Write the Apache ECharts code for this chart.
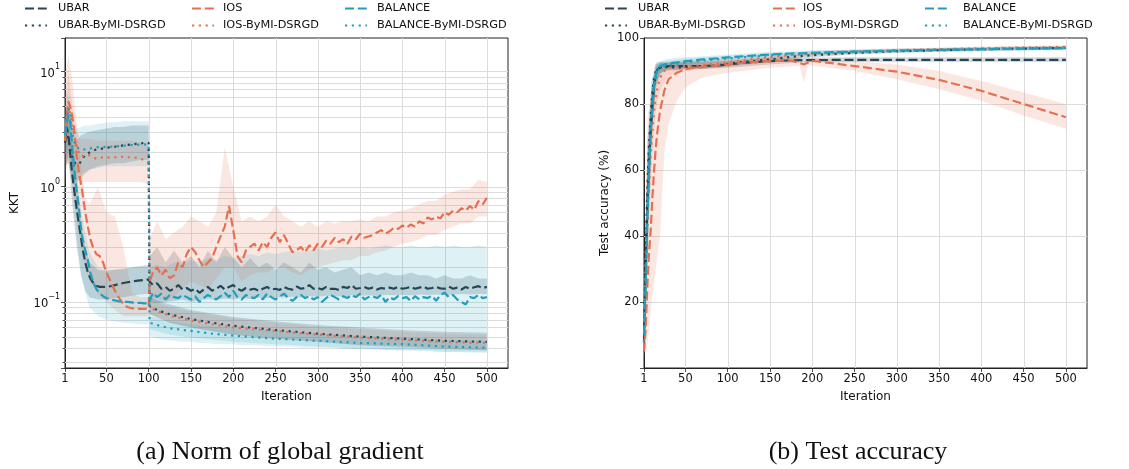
<!DOCTYPE html>
<html><head><meta charset="utf-8">
<script src="https://cdn.jsdelivr.net/npm/echarts@6/dist/echarts.min.js"></script>
<style>html,body{margin:0;padding:0;background:#fff}#c{width:1129px;height:469px}</style>
</head><body><div id="c"></div>
<script>
// ---------- tick labels / names ----------
const names = ['UBAR','UBAR-ByMI-DSRGD','IOS','IOS-ByMI-DSRGD','BALANCE','BALANCE-ByMI-DSRGD'];
const captions = ['(a) Norm of global gradient','(b) Test accuracy'];
const xTickValues = [1,50,100,150,200,250,300,350,400,450,500];
const xGridValues = [50,100,150,200,250,300,350,400,450,500];
const kktMajor = [0.1,1,10];
const kktMinor = [0.03,0.04,0.05,0.06,0.07,0.08,0.09,0.2,0.3,0.4,0.5,0.6,0.7,0.8,0.9,2,3,4,5,6,7,8,9];
const accGrid = [20,40,60,80];

// ---------- (a) KKT : iterations ----------
const kktEarlyIter = [1,3,5,7,9,11,13,15,17,19,21,23,25,28,31,34,38,42,46,50,55,60,65,70,75,80,85,90,95,100];
const kktLateIter = [101,105,110,115,120,125,130,135,140,145,150,155,160,165,170,175,180,185,190,195,200,205,210,215,220,225,230,235,240,245,250,255,260,265,270,275,280,285,290,295,300,305,310,315,320,325,330,335,340,345,350,355,360,365,370,375,380,385,390,395,400,405,410,415,420,425,430,435,440,445,450,455,460,465,470,475,480,485,490,495,500];
const kktSmoothIter = [101,110,125,150,175,200,250,300,350,400,450,500];

// ---------- (a) KKT : means ----------
const ubarKktEarly = [2.4,3.3,2.8,2.0,1.4,1.05,0.8,0.63,0.5,0.4,0.32,0.26,0.22,0.18,0.16,0.148,0.138,0.135,0.135,0.135,0.137,0.14,0.143,0.146,0.148,0.15,0.152,0.154,0.155,0.157];
const ubarKktLate = [0.15,0.14,0.145,0.13,0.135,0.125,0.13,0.14,0.128,0.132,
 0.125,0.13,0.12,0.128,0.135,0.125,0.13,0.138,0.128,0.135,
 0.14,0.13,0.125,0.132,0.128,0.13,0.125,0.13,0.135,0.128,
 0.13,0.127,0.135,0.13,0.128,0.136,0.13,0.132,0.14,0.13,
 0.132,0.128,0.135,0.13,0.13,0.127,0.135,0.132,0.14,0.13,
 0.132,0.135,0.13,0.133,0.128,0.132,0.13,0.133,0.13,0.135,
 0.13,0.132,0.135,0.13,0.133,0.136,0.13,0.132,0.135,0.131,
 0.13,0.136,0.13,0.133,0.128,0.135,0.13,0.134,0.137,0.132,
 0.135];
const iosKktEarly = [2.5,4.0,5.5,5.0,4.3,3.5,2.6,1.8,1.4,1.15,0.95,0.75,0.6,0.45,0.35,0.3,0.26,0.25,0.22,0.18,0.15,0.125,0.108,0.096,0.09,0.088,0.088,0.087,0.087,0.088];
const iosKktLate = [0.15,0.18,0.2,0.17,0.19,0.16,0.17,0.22,0.2,0.26,
 0.3,0.27,0.23,0.2,0.22,0.24,0.3,0.37,0.45,0.68,
 0.42,0.25,0.22,0.28,0.3,0.32,0.28,0.33,0.3,0.36,
 0.4,0.33,0.38,0.32,0.27,0.28,0.3,0.27,0.31,0.28,
 0.32,0.3,0.34,0.32,0.36,0.33,0.35,0.32,0.37,0.35,
 0.39,0.36,0.37,0.38,0.4,0.42,0.39,0.41,0.44,0.43,
 0.46,0.44,0.47,0.45,0.5,0.48,0.54,0.52,0.55,0.53,
 0.6,0.57,0.62,0.6,0.65,0.62,0.68,0.63,0.75,0.7,
 0.8];
const balKktEarly = [2.8,3.5,4.2,3.8,2.5,1.7,1.2,0.9,0.7,0.5,0.38,0.32,0.28,0.23,0.18,0.15,0.13,0.118,0.112,0.108,0.105,0.103,0.101,0.1,0.1,0.099,0.098,0.098,0.097,0.097];
const balKktLate = [0.1,0.12,0.11,0.118,0.105,0.115,0.11,0.108,0.115,0.11,
 0.105,0.112,0.1,0.108,0.115,0.11,0.105,0.112,0.12,0.11,
 0.125,0.11,0.105,0.115,0.11,0.108,0.115,0.105,0.118,0.11,
 0.105,0.112,0.118,0.108,0.102,0.11,0.115,0.108,0.112,0.105,
 0.11,0.1,0.108,0.115,0.11,0.105,0.112,0.108,0.115,0.11,
 0.118,0.105,0.11,0.112,0.108,0.115,0.1,0.11,0.105,0.112,
 0.108,0.11,0.102,0.112,0.105,0.11,0.108,0.113,0.102,0.115,
 0.12,0.11,0.115,0.105,0.1,0.095,0.11,0.108,0.115,0.108,
 0.11];
const ubarBymiKktEarly = [2.5,2.8,2.6,2.2,1.9,1.7,1.6,1.55,1.55,1.6,1.7,1.8,1.9,1.95,2.0,2.05,2.1,2.12,2.15,2.18,2.2,2.22,2.25,2.28,2.3,2.33,2.35,2.37,2.4,2.4];
const ubarBymiKktLate = [0.092,0.085,0.078,0.071,0.066,0.062,0.057,0.053,0.05,0.048,0.046,0.045];
const iosBymiKktEarly = [2.6,3.5,4.8,4.3,3.5,3.0,2.5,2.2,2.0,1.85,1.8,1.85,1.9,1.9,1.85,1.8,1.75,1.78,1.8,1.8,1.78,1.8,1.8,1.82,1.8,1.8,1.78,1.75,1.7,1.6];
const iosBymiKktLate = [0.09,0.083,0.076,0.069,0.064,0.06,0.056,0.052,0.049,0.047,0.045,0.044];
const balBymiKktEarly = [2.8,3.8,4.8,4.5,3.2,2.6,2.3,2.2,2.15,2.1,2.1,2.1,2.12,2.15,2.15,2.17,2.2,2.2,2.2,2.22,2.22,2.25,2.25,2.27,2.28,2.3,2.3,2.32,2.33,2.3];
const balBymiKktLate = [0.066,0.063,0.059,0.056,0.053,0.051,0.048,0.046,0.044,0.043,0.041,0.040];

// ---------- (a) KKT : bands ----------
const kktBandEarlyIter = [1,5,10,15,20,25,30,40,50,60,70,80,90,100];
const kktBandLateIter = [101,110,120,130,140,150,160,170,180,190,200,210,220,230,240,250,260,270,280,290,300,310,320,330,340,350,360,370,380,390,400,410,420,430,440,450,460,470,480,490,500];
const kktBandSmoothIter = [101,125,150,200,250,300,350,400,450,500];
const ubarKktLoEarly = [1.5,1.8,0.65,0.3,0.17,0.125,0.11,0.105,0.105,0.108,0.11,0.113,0.116,0.118];
const ubarKktHiEarly = [3.6,4.8,2.1,1.1,0.5,0.3,0.22,0.19,0.185,0.19,0.195,0.2,0.205,0.21];
const ubarKktLoLate = [0.1,0.098,0.1,0.102,0.105,0.1,0.103,0.106,0.104,0.107,
 0.105,0.108,0.106,0.109,0.108,0.11,0.109,0.111,0.11,0.112,
 0.111,0.113,0.112,0.112,0.114,0.113,0.114,0.113,0.115,0.114,
 0.115,0.114,0.116,0.115,0.116,0.115,0.116,0.117,0.116,0.117,0.117];
const ubarKktHiLate = [0.25,0.3,0.22,0.28,0.22,0.25,0.2,0.28,0.22,0.3,
 0.24,0.2,0.24,0.2,0.22,0.19,0.22,0.2,0.18,0.22,
 0.19,0.2,0.18,0.19,0.2,0.17,0.18,0.17,0.18,0.17,
 0.17,0.18,0.17,0.17,0.16,0.17,0.16,0.16,0.17,0.16,0.16];
const iosKktLoEarly = [1.0,2.5,1.2,0.5,0.3,0.2,0.15,0.12,0.1,0.085,0.075,0.075,0.075,0.075];
const iosKktHiEarly = [9,14,8,3.5,1.5,0.8,0.7,1.0,0.6,0.55,0.3,0.12,0.11,0.11];
const iosKktLoLate = [0.1,0.11,0.1,0.11,0.13,0.15,0.14,0.13,0.16,0.2,
 0.2,0.15,0.17,0.18,0.18,0.2,0.2,0.18,0.17,0.19,
 0.2,0.21,0.22,0.23,0.23,0.25,0.25,0.27,0.28,0.3,
 0.32,0.33,0.35,0.38,0.38,0.42,0.45,0.48,0.48,0.55,0.55];
const iosKktHiLate = [0.35,0.5,0.35,0.4,0.45,0.55,0.5,0.45,0.6,2.2,
 1.0,0.5,0.55,0.5,0.55,0.7,0.55,0.5,0.45,0.5,
 0.45,0.5,0.48,0.5,0.5,0.52,0.5,0.55,0.55,0.6,
 0.62,0.65,0.7,0.75,0.75,0.85,0.9,0.95,0.95,1.15,1.1];
const balKktLoEarly = [1.8,2.2,0.9,0.35,0.17,0.12,0.09,0.075,0.07,0.068,0.066,0.065,0.064,0.064];
const balKktHiEarly = [4,6,2.6,1.3,0.6,0.4,0.27,0.2,0.19,0.19,0.19,0.2,0.2,0.2];
const balKktLoLate = [0.05,0.048,0.047,0.046,0.045,0.045,0.044,0.044,0.043,0.043,
 0.043,0.042,0.042,0.042,0.041,0.041,0.041,0.041,0.04,0.04,
 0.04,0.04,0.04,0.039,0.039,0.039,0.039,0.039,0.038,0.038,
 0.038,0.038,0.038,0.038,0.037,0.037,0.037,0.037,0.037,0.037,0.037];
const balKktHiLate = [0.2,0.21,0.2,0.22,0.21,0.23,0.22,0.24,0.23,0.25,
 0.24,0.25,0.26,0.25,0.27,0.26,0.27,0.28,0.27,0.28,
 0.29,0.28,0.29,0.3,0.29,0.3,0.29,0.3,0.31,0.3,
 0.3,0.31,0.3,0.3,0.31,0.3,0.31,0.3,0.3,0.31,0.3];
const ubarBymiKktLoEarly = [1.5,1.6,1.1,1.1,1.2,1.3,1.4,1.5,1.55,1.6,1.6,1.65,1.7,1.7];
const ubarBymiKktHiEarly = [4,5,2.6,2.5,2.8,2.9,3.0,3.1,3.2,3.3,3.3,3.4,3.4,3.4];
const ubarBymiKktLoLate = [0.078,0.066,0.06,0.052,0.048,0.045,0.042,0.041,0.039,0.038];
const ubarBymiKktHiLate = [0.11,0.095,0.085,0.074,0.068,0.063,0.06,0.057,0.055,0.054];
const iosBymiKktLoEarly = [1.2,2,1.5,1.2,1.1,1.1,1.1,1.1,1.1,1.1,1.1,1.1,1.1,1.05];
const iosBymiKktHiEarly = [5,10,5,3,2.6,2.6,2.6,2.5,2.5,2.5,2.5,2.5,2.4,2.3];
const iosBymiKktLoLate = [0.078,0.066,0.06,0.052,0.048,0.045,0.042,0.04,0.039,0.038];
const iosBymiKktHiLate = [0.105,0.09,0.082,0.072,0.066,0.061,0.058,0.055,0.053,0.052];
const balBymiKktLoEarly = [1.8,2.5,1.4,1.3,1.3,1.35,1.4,1.45,1.5,1.5,1.5,1.5,1.5,1.5];
const balBymiKktHiEarly = [4.5,7,3.2,3.2,3.3,3.4,3.4,3.5,3.6,3.6,3.7,3.7,3.7,3.7];
const balBymiKktLoLate = [0.058,0.052,0.049,0.045,0.043,0.041,0.039,0.038,0.037,0.036];
const balBymiKktHiLate = [0.075,0.068,0.064,0.059,0.056,0.053,0.051,0.049,0.047,0.046];

// ---------- (b) accuracy ----------
const accIter = [1,3,5,7,9,11,13,15,17,20,25,30,40,50,60,70,80,90,100,120,150,175,190,200,250,300,350,400,450,500];
const ubarAcc = [8,30,50,62,72,80,86,89,90.5,91,91.3,91.5,91.5,91.5,91.5,91.5,91.6,91.7,92,92.5,93,93.2,93.3,93.3,93.4,93.4,93.4,93.4,93.4,93.4];
const ubarBymiAcc = [9,35,55,68,77,84,88,90,90.8,91,91.2,91.2,91,91.2,91.5,91.4,91.5,91.8,92.2,92.8,93.5,94.3,94.6,94.8,95.5,96,96.3,96.6,96.8,97];
const iosAcc = [5,12,25,35,42,52,60,67,72,78,84,87.5,89.5,90.5,91,91.2,91.5,91.8,92,92.5,93,93.2,92,93.1,91.5,89.8,87.3,84,80,76];
const iosBymiAcc = [8,35,45,55,65,72,78,82,85,88,90,91,91.3,91.5,91.5,91.8,92,92.3,92.7,93.3,94.2,94.8,95.1,95.3,95.9,96.3,96.6,96.9,97.1,97.3];
const balAcc = [10,25,45,60,72,80,86,89,90.5,91.5,92,92.3,92.6,93,93.2,93.5,93.7,93.9,94.1,94.5,95,95.3,95.4,95.5,95.9,96.2,96.4,96.6,96.8,96.9];
const balBymiAcc = [8,30,48,62,73,81,86,88.5,90,91,91.5,91.8,92.2,92.6,92.9,93.1,93.4,93.6,93.8,94.2,94.8,95.2,95.3,95.4,95.8,96.1,96.4,96.6,96.8,97];
const accBandIter = [1,5,10,15,20,25,30,40,50,70,100,150,185,190,195,250,300,350,400,450,500];
const ubarAccLo = [3,35,68,85,89.5,90,90.3,90.4,90.5,90.6,91,92,92.6,92.6,92.6,92.7,92.7,92.7,92.7,92.7,92.7];
const ubarAccHi = [14,62,84,92,92.5,92.6,92.7,92.7,92.8,92.8,93,94,94.1,94.1,94.1,94.2,94.2,94.2,94.2,94.2,94.2];
const ubarBymiAccLo = [4,40,70,86,89,90,90.2,90.2,90.5,90.7,91.3,92.8,93.9,94,94.1,95,95.5,95.8,96.1,96.3,96.5];
const ubarBymiAccHi = [15,68,87,92.5,92.8,92.5,92.5,92.3,92.5,92.6,93.2,94.3,95.1,95.2,95.3,96,96.5,96.8,97.1,97.3,97.5];
const iosAccLo = [3,7,20,30,40,65,74,81,85,88,89.5,91,91.5,86.5,91.8,90,87.5,84.5,81,76.5,72.5];
const iosAccHi = [20,75,85,88,90,91.5,92,92.5,93,93,93.5,94,94,93,94,93,92,90,87,83.5,80];
const iosBymiAccLo = [3,30,60,78,84,87,88.5,89.5,90,90.5,91.5,93.3,94.3,94.4,94.5,95.3,95.8,96.1,96.4,96.6,96.8];
const iosBymiAccHi = [15,65,85,89,91.5,92.3,92.8,93,93.2,93.5,93.8,95,95.7,95.8,95.9,96.5,96.8,97.1,97.4,97.6,97.8];
const balAccLo = [5,38,72,86,89.5,90.5,91,91.5,92,92.5,93.3,94.3,94.7,94.8,94.9,95.3,95.6,95.8,96,96.2,96.3];
const balAccHi = [16,60,85,91.5,93,93.5,93.7,94,94.2,94.5,95,95.8,96,96.1,96.2,96.5,96.8,97,97.2,97.4,97.5];
const balBymiAccLo = [4,40,72,85,89,90,90.8,91.2,91.7,92.2,93,94.2,94.6,94.7,94.8,95.2,95.5,95.8,96,96.2,96.4];
const balBymiAccHi = [14,62,85,91,92.5,93,93.2,93.5,93.8,94.2,94.6,95.5,95.9,96,96.1,96.4,96.7,97,97.2,97.4,97.6];

// ---------- styling ----------
const C = {UBAR:'#264653', IOS:'#e76f51', BAL:'#219ebc'};
const FILL = {UBAR:'rgba(38,70,83,0.2)', IOS:'rgba(231,111,81,0.17)', BAL:'rgba(33,158,188,0.15)'};
const DASH = [9,3.8], DOT = [2.2,4.6];
const LW = 2.2;
const FONT = 'DejaVu Sans';
const XR = [1,525];
const KKT_R = [0.0267,19.5];
const ACC_R = [0,100];

function pairs(xs, ys){ return xs.map((x,i)=>[x, ys[i]]); }
function line(name, xs, ys, color, dash, gi){
  return {type:'line', name, xAxisIndex:gi, yAxisIndex:gi, data:pairs(xs,ys), symbol:'none', showSymbol:false,
    lineStyle:{color, width:LW, type:dash, cap:'butt'}, itemStyle:{color}, z:3, animation:false, silent:true};
}
function band(xs, lo, hi, fill, gi){
  return {type:'custom', xAxisIndex:gi, yAxisIndex:gi, silent:true, z:2, animation:false, clip:false,
    data:[[xs[0], hi[0]]],
    renderItem:function(params, api){
      const pts=[];
      for(let i=0;i<xs.length;i++) pts.push(api.coord([xs[i], hi[i]]));
      for(let i=xs.length-1;i>=0;i--) pts.push(api.coord([xs[i], lo[i]]));
      return {type:'polygon', shape:{points:pts}, style:{fill:fill, stroke:null}};
    }};
}
function gridLayer(gi, xLines, yLines, yMinorTicks, yr){
  return {type:'custom', xAxisIndex:gi, yAxisIndex:gi, silent:true, z:1, animation:false, clip:false,
    data:[[xLines[0], yLines[0]]],
    renderItem:function(params, api){
      const ch=[];
      const st={stroke:'#dcdcdc', lineWidth:1};
      xLines.forEach(x=>{const a=api.coord([x,yr[0]]), b=api.coord([x,yr[1]]);
        const px=Math.round(a[0])+0.5; ch.push({type:'line', shape:{x1:px,y1:a[1],x2:px,y2:b[1]}, style:st});});
      yLines.forEach(y=>{const a=api.coord([XR[0],y]), b=api.coord([XR[1],y]);
        const py=Math.round(a[1])+0.5; ch.push({type:'line', shape:{x1:a[0],y1:py,x2:b[0],y2:py}, style:st});});
      yMinorTicks.forEach(y=>{const a=api.coord([XR[0],y]);
        const py=Math.round(a[1])+0.5; ch.push({type:'line', shape:{x1:a[0]-2.5,y1:py,x2:a[0],y2:py}, style:{stroke:'#222', lineWidth:0.8}});});
      return {type:'group', children:ch};
    }};
}

const series = [
  gridLayer(0, xGridValues, kktMajor.concat(kktMinor), kktMinor, KKT_R),
  gridLayer(1, xGridValues, accGrid, [], ACC_R),
  band(kktBandEarlyIter, ubarKktLoEarly, ubarKktHiEarly, FILL.UBAR, 0),
  band(kktBandLateIter, ubarKktLoLate, ubarKktHiLate, FILL.UBAR, 0),
  band(kktBandEarlyIter, ubarBymiKktLoEarly, ubarBymiKktHiEarly, FILL.UBAR, 0),
  band(kktBandSmoothIter, ubarBymiKktLoLate, ubarBymiKktHiLate, FILL.UBAR, 0),
  band(kktBandEarlyIter, iosKktLoEarly, iosKktHiEarly, FILL.IOS, 0),
  band(kktBandLateIter, iosKktLoLate, iosKktHiLate, FILL.IOS, 0),
  band(kktBandEarlyIter, iosBymiKktLoEarly, iosBymiKktHiEarly, FILL.IOS, 0),
  band(kktBandSmoothIter, iosBymiKktLoLate, iosBymiKktHiLate, FILL.IOS, 0),
  band(kktBandEarlyIter, balKktLoEarly, balKktHiEarly, FILL.BAL, 0),
  band(kktBandLateIter, balKktLoLate, balKktHiLate, FILL.BAL, 0),
  band(kktBandEarlyIter, balBymiKktLoEarly, balBymiKktHiEarly, FILL.BAL, 0),
  band(kktBandSmoothIter, balBymiKktLoLate, balBymiKktHiLate, FILL.BAL, 0),
  line(names[0], kktEarlyIter.concat(kktLateIter), ubarKktEarly.concat(ubarKktLate), C.UBAR, DASH, 0),
  line(names[1], kktEarlyIter.concat(kktSmoothIter), ubarBymiKktEarly.concat(ubarBymiKktLate), C.UBAR, DOT, 0),
  line(names[2], kktEarlyIter.concat(kktLateIter), iosKktEarly.concat(iosKktLate), C.IOS, DASH, 0),
  line(names[3], kktEarlyIter.concat(kktSmoothIter), iosBymiKktEarly.concat(iosBymiKktLate), C.IOS, DOT, 0),
  line(names[4], kktEarlyIter.concat(kktLateIter), balKktEarly.concat(balKktLate), C.BAL, DASH, 0),
  line(names[5], kktEarlyIter.concat(kktSmoothIter), balBymiKktEarly.concat(balBymiKktLate), C.BAL, DOT, 0),
  band(accBandIter, ubarAccLo, ubarAccHi, FILL.UBAR, 1),
  band(accBandIter, ubarBymiAccLo, ubarBymiAccHi, FILL.UBAR, 1),
  band(accBandIter, iosAccLo, iosAccHi, FILL.IOS, 1),
  band(accBandIter, iosBymiAccLo, iosBymiAccHi, FILL.IOS, 1),
  band(accBandIter, balAccLo, balAccHi, FILL.BAL, 1),
  band(accBandIter, balBymiAccLo, balBymiAccHi, FILL.BAL, 1),
  line(names[0], accIter, ubarAcc, C.UBAR, DASH, 1),
  line(names[1], accIter, ubarBymiAcc, C.UBAR, DOT, 1),
  line(names[2], accIter, iosAcc, C.IOS, DASH, 1),
  line(names[3], accIter, iosBymiAcc, C.IOS, DOT, 1),
  line(names[4], accIter, balAcc, C.BAL, DASH, 1),
  line(names[5], accIter, balBymiAcc, C.BAL, DOT, 1)
];

const axisCommon = {
  axisLine:{show:true, onZero:false, lineStyle:{color:'#222', width:1}},
  axisTick:{show:true, length:4, lineStyle:{color:'#222', width:0.8}},
  splitLine:{show:false},
  axisLabel:{color:'#111', fontFamily:FONT, fontSize:11.5, margin:5},
  nameTextStyle:{color:'#111', fontFamily:FONT, fontSize:12}
};
function xAxis(gi){
  return Object.assign({}, axisCommon, {type:'value', gridIndex:gi, min:XR[0], max:XR[1], name:'Iteration',
    nameLocation:'middle', nameGap:23,
    axisTick:Object.assign({}, axisCommon.axisTick, {customValues:xTickValues}),
    axisLabel:Object.assign({}, axisCommon.axisLabel, {customValues:xTickValues, showMinLabel:true, showMaxLabel:true})});
}
function supFmt(v){
  const l=Math.log10(v), e=Math.round(l);
  if(Math.abs(l-e)>1e-6) return '';
  return '{b|10}{s|'+(e<0?'\u2212'+(-e):e)+'}';
}
// legend drawn as graphic elements (matplotlib-like handles)
const legendCols = [[25,58,0],[192,223,2],[345,377,4],[605,638,0],[773,803,2],[925,963,4]];
const legendColor = [C.UBAR, C.UBAR, C.IOS, C.IOS, C.BAL, C.BAL];
const graphics = [];
legendCols.forEach(([ix, tx, k])=>{
  [0,1].forEach(r=>{
    const y = 8.5 + r*17;
    graphics.push({type:'line', silent:true, shape:{x1:ix, y1:y, x2:ix+22, y2:y},
      style:{stroke:legendColor[k+r], lineWidth:LW, lineDash:r===0?DASH:DOT, lineCap:'butt'}});
    graphics.push({type:'text', silent:true, x:tx, y:y,
      style:{text:names[k+r], font:'11.3px "DejaVu Sans"', fill:'#111', align:'left', verticalAlign:'middle'}});
  });
});
graphics.push({type:'text', x:280, y:452, style:{text:captions[0], font:'26px "Liberation Serif"', fill:'#111', align:'center', verticalAlign:'middle'}});
graphics.push({type:'text', x:858, y:452, style:{text:captions[1], font:'26px "Liberation Serif"', fill:'#111', align:'center', verticalAlign:'middle'}});

const option = {
  backgroundColor:'#fff',
  animation:false,
  grid:[
    {left:65, top:38, width:443, height:330, show:true, borderColor:'#222', borderWidth:1, backgroundColor:'transparent'},
    {left:644, top:38, width:443, height:330, show:true, borderColor:'#222', borderWidth:1, backgroundColor:'transparent'}
  ],
  xAxis:[xAxis(0), xAxis(1)],
  yAxis:[
    Object.assign({}, axisCommon, {type:'log', gridIndex:0, logBase:10, min:KKT_R[0], max:KKT_R[1], name:'KKT',
      nameLocation:'middle', nameGap:44, nameRotate:90,
      axisLabel:Object.assign({}, axisCommon.axisLabel, {formatter:supFmt, showMinLabel:true, showMaxLabel:true,
        rich:{b:{fontFamily:FONT, fontSize:11.5, color:'#111', lineHeight:17, verticalAlign:'bottom'},
              s:{fontFamily:FONT, fontSize:8, color:'#111', lineHeight:17, verticalAlign:'top'}}})}),
    Object.assign({}, axisCommon, {type:'value', gridIndex:1, min:ACC_R[0], max:ACC_R[1], interval:20, name:'Test accuracy (%)',
      nameLocation:'middle', nameGap:33, nameRotate:90,
      axisLabel:Object.assign({}, axisCommon.axisLabel, {formatter:function(v){return v===0?'':String(v);}})})
  ],
  graphic:graphics,
  series:series
};
const chart = echarts.init(document.getElementById('c'), null, {renderer:'canvas'});
chart.setOption(option);
</script></body></html>
